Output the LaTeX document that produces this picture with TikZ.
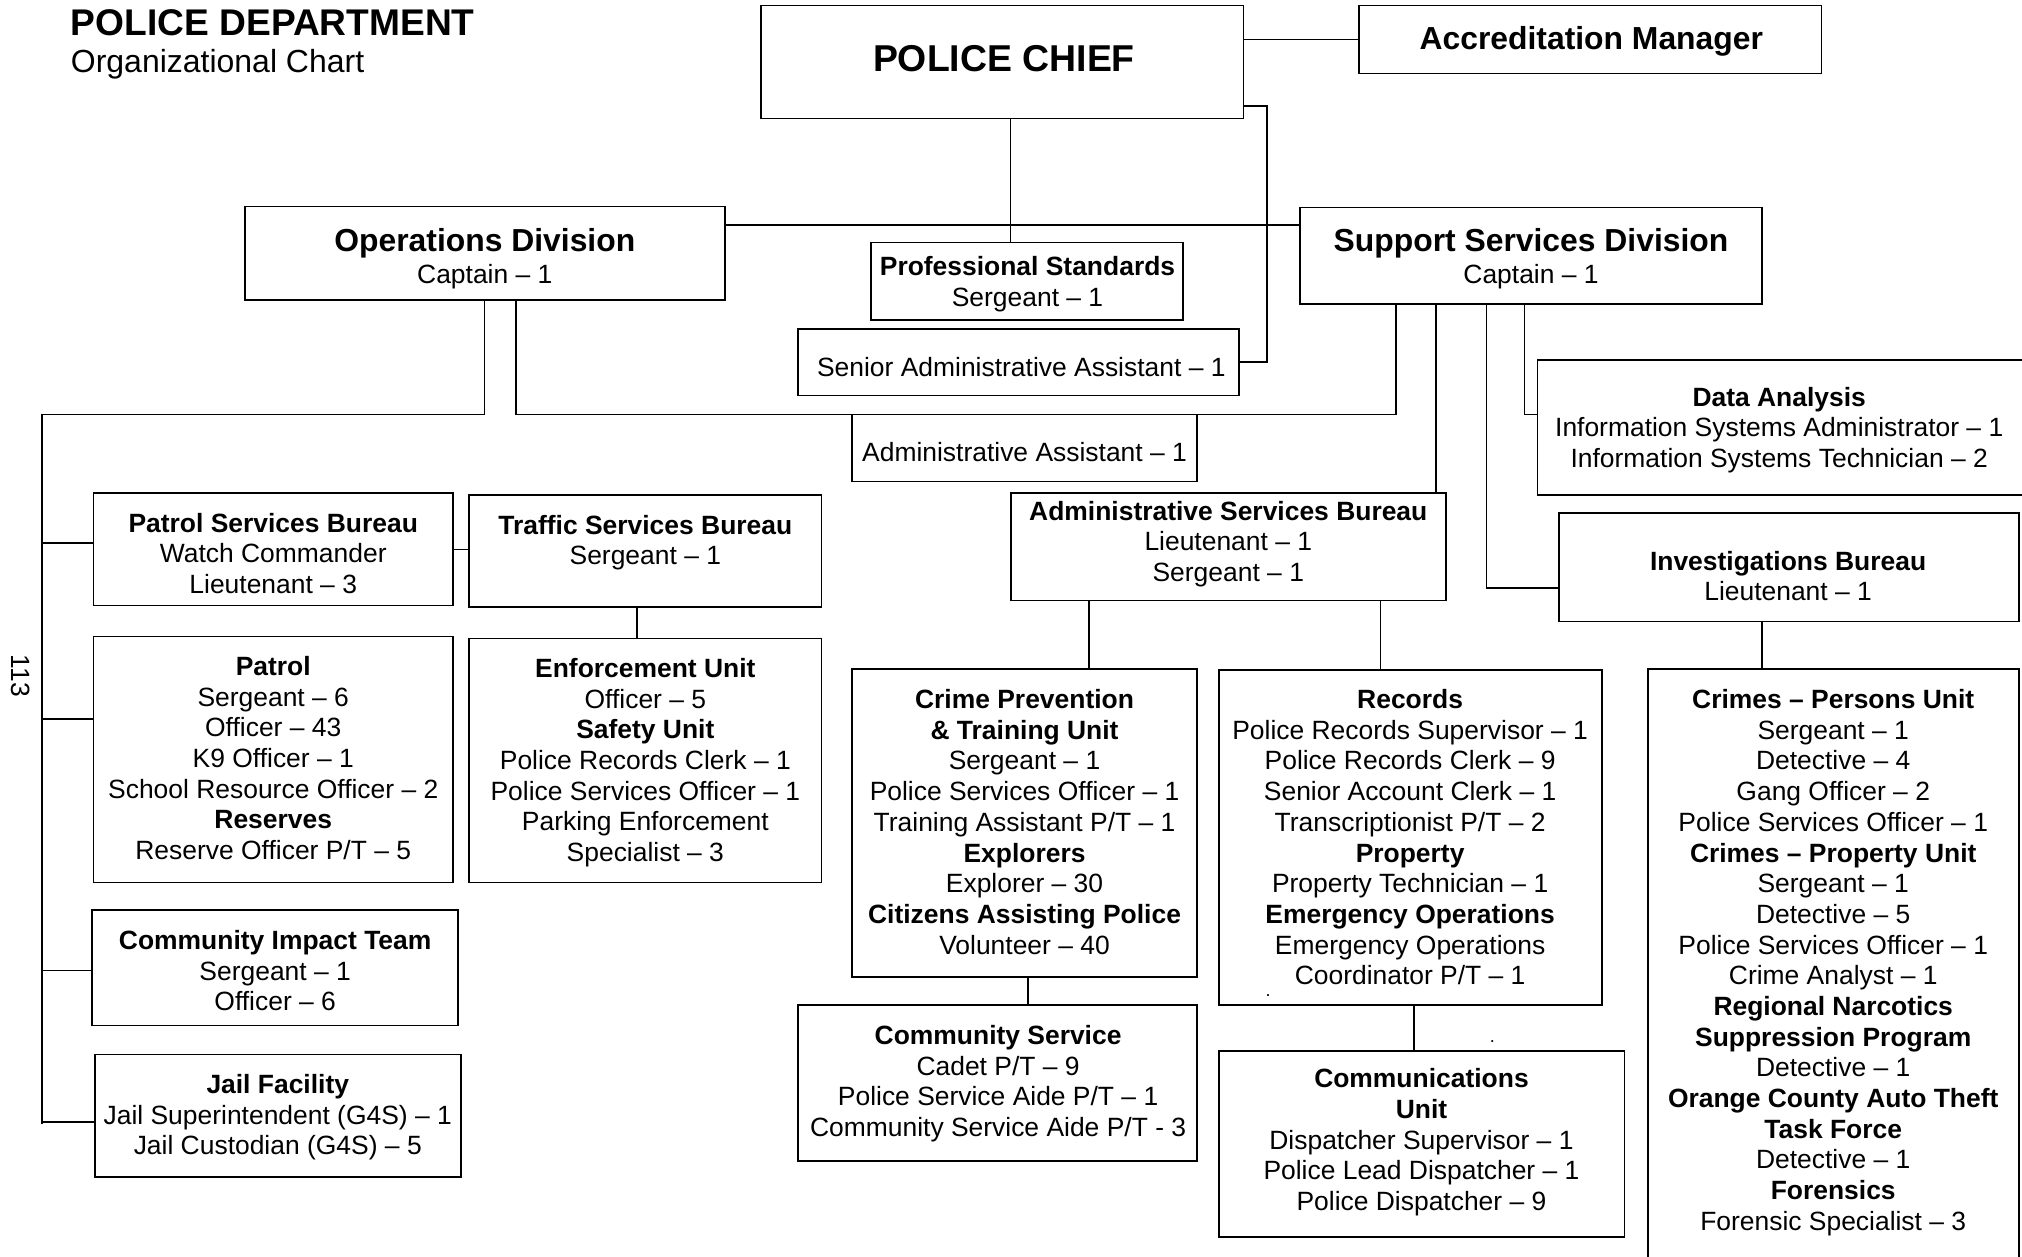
\documentclass[tikz,border=0pt]{standalone}
\usepackage{fontspec}
\setmainfont{Liberation Sans}
\newcommand\pdTitle{\fontsize{28.8}{33}\selectfont\bfseries}
\newcommand\pdSub{\fontsize{24.8}{28}\selectfont}
\newcommand\pdHead{\fontsize{24.7}{28}\selectfont\bfseries}
\newcommand\pdChief{\fontsize{29}{33}\selectfont\bfseries}
\begin{document}
\begin{tikzpicture}[x=1pt,y=-1pt,
  font=\fontsize{20.5}{23.8}\selectfont,
  box/.style={draw, line width=1.3pt, inner sep=0pt, outer sep=0pt},
  lbl/.style={align=center, inner sep=0pt, outer sep=0pt, anchor=north},
  txt/.style={inner sep=0pt, outer sep=0pt},
  conn/.style={line width=1.3pt}]
\useasboundingbox (0,0) rectangle (1568,974);
\clip (0,0) rectangle (1568,974);
\fill[white] (0,0) rectangle (1568,974);

% title
\node[txt, anchor=base west] (title) at (55,27.9) {\pdTitle POLICE DEPARTMENT};
\node[txt, anchor=base west] (subtitle) at (55,56.5) {\pdSub Organizational Chart};
\node[txt, rotate=-90] (pagenum) at (16,524) {113};

% boxes
\node[box, minimum width=374.4pt, minimum height=87.7pt] (chief) at (777.2,48.15) {};
\node[box, minimum width=358.7pt, minimum height=52.8pt] (acc) at (1233.25,30.7) {};
\node[box, minimum width=372.1pt, minimum height=72.6pt] (ops) at (375.95,196.5) {};
\node[box, minimum width=358.7pt, minimum height=75.1pt] (support) at (1187.25,198.35) {};
\node[box, minimum width=241.9pt, minimum height=60.2pt] (prof) at (796.55,218.2) {};
\node[box, minimum width=342.4pt, minimum height=51.5pt] (senior) at (789.8,280.85) {};
\node[box, minimum width=267.8pt, minimum height=51.9pt] (admin) at (794.5,347.45) {};
\node[box, minimum width=407.7pt, minimum height=104.6pt] (data) at (1396.15,331.6) {};
\node[box, minimum width=337.3pt, minimum height=83.2pt] (asb) at (952.65,424) {};
\node[box, minimum width=356.7pt, minimum height=84.4pt] (inv) at (1387.15,439.8) {};
\node[box, minimum width=278.8pt, minimum height=87.2pt] (psb) at (211.9,426) {};
\node[box, minimum width=273.3pt, minimum height=87.2pt] (traffic) at (500.45,427.2) {};
\node[box, minimum width=278.8pt, minimum height=190.9pt] (patrol) at (211.9,588.95) {};
\node[box, minimum width=273.3pt, minimum height=189.3pt] (enforcement) at (500.45,589.75) {};
\node[box, minimum width=283.8pt, minimum height=89.4pt] (cit) at (213.4,750.5) {};
\node[box, minimum width=283.8pt, minimum height=95.3pt] (jail) at (215.4,865.25) {};
\node[box, minimum width=267.8pt, minimum height=238.9pt] (cp) at (794.5,638.15) {};
\node[box, minimum width=309.8pt, minimum height=121.3pt] (cs) at (773.5,839.75) {};
\node[box, minimum width=296.8pt, minimum height=259.5pt] (records) at (1093.8,649.35) {};
\node[box, minimum width=314.3pt, minimum height=144.3pt] (comms) at (1102.55,886.95) {};
\node[box, minimum width=287.8pt, minimum height=481.3pt] (crimes) at (1421.6,759.35) {};

% texts
\node[txt, anchor=base] (chiefT) at (778.5,55.1) {\pdChief POLICE CHIEF};
\node[txt, anchor=base] (accT) at (1234,38) {\pdHead Accreditation Manager};
\node[lbl] (opsT) at (375.95,177.2) {{\pdHead Operations Division}\\[0.6pt]Captain – 1};
\node[lbl] (supportT) at (1187.25,177.4) {{\pdHead Support Services Division}\\[0.6pt]Captain – 1};
\node[lbl] (profT) at (796.8,199.1) {\textbf{Professional Standards}\\Sergeant – 1};
\node[txt, anchor=base] (seniorT) at (792,292.2) {Senior Administrative Assistant – 1};
\node[txt, anchor=base] (adminT) at (794.5,358) {Administrative Assistant – 1};
\node[lbl] (dataT) at (1379.7,300) {\textbf{Data Analysis}\\Information Systems Administrator – 1\\Information Systems Technician – 2};
\node[lbl] (asbT) at (952.5,388.4) {\textbf{Administrative Services Bureau}\\Lieutenant – 1\\Sergeant – 1};
\node[lbl] (invT) at (1386.6,427.2) {\textbf{Investigations Bureau}\\Lieutenant – 1};
\node[lbl] (psbT) at (211.9,397.7) {\textbf{Patrol Services Bureau}\\Watch Commander\\Lieutenant – 3};
\node[lbl] (trafficT) at (500.45,399.3) {\textbf{Traffic Services Bureau}\\Sergeant – 1};
\node[lbl] (patrolT) at (211.9,508.9) {\textbf{Patrol}\\Sergeant – 6\\Officer – 43\\K9 Officer – 1\\School Resource Officer – 2\\\textbf{Reserves}\\Reserve Officer P/T – 5};
\node[lbl] (enforcementT) at (500.45,510.4) {\textbf{Enforcement Unit}\\Officer – 5\\\textbf{Safety Unit}\\Police Records Clerk – 1\\Police Services Officer – 1\\Parking Enforcement\\Specialist – 3};
\node[lbl] (citT) at (213.4,721.5) {\textbf{Community Impact Team}\\Sergeant – 1\\Officer – 6};
\node[lbl] (jailT) at (215.4,833.2) {\textbf{Jail Facility}\\Jail Superintendent (G4S) – 1\\Jail Custodian (G4S) – 5};
\node[lbl] (cpT) at (794.5,534.6) {\textbf{Crime Prevention}\\\textbf{\& Training Unit}\\Sergeant – 1\\Police Services Officer – 1\\Training Assistant P/T – 1\\\textbf{Explorers}\\Explorer – 30\\\textbf{Citizens Assisting Police}\\Volunteer – 40};
\node[lbl] (csT) at (774,795.1) {\textbf{Community Service}\\Cadet P/T – 9\\Police Service Aide P/T – 1\\Community Service Aide P/T - 3};
\node[lbl] (recordsT) at (1093.5,534.6) {\textbf{Records}\\Police Records Supervisor – 1\\Police Records Clerk – 9\\Senior Account Clerk – 1\\Transcriptionist P/T – 2\\\textbf{Property}\\Property Technician – 1\\\textbf{Emergency Operations}\\Emergency Operations\\Coordinator P/T – 1};
\node[lbl] (commsT) at (1102.3,828.6) {\textbf{Communications}\\\textbf{Unit}\\Dispatcher Supervisor – 1\\Police Lead Dispatcher – 1\\Police Dispatcher – 9};
\node[lbl] (crimesT) at (1421.6,534.6) {\textbf{Crimes – Persons Unit}\\Sergeant – 1\\Detective – 4\\Gang Officer – 2\\Police Services Officer – 1\\\textbf{Crimes – Property Unit}\\Sergeant – 1\\Detective – 5\\Police Services Officer – 1\\Crime Analyst – 1\\\textbf{Regional Narcotics}\\\textbf{Suppression Program}\\Detective – 1\\\textbf{Orange County Auto Theft}\\\textbf{Task Force}\\Detective – 1\\\textbf{Forensics}\\Forensic Specialist – 3};
\node[txt, anchor=base, font=\fontsize{14}{16}\selectfont] (dot1) at (983.4,772.5) {.};
\node[txt, anchor=base, font=\fontsize{14}{16}\selectfont] (dot2) at (1157.3,808.5) {.};

% connectors
\coordinate (cR) at (982.4,82);
\draw[conn] (chief.east |- cR) -- (cR) |- (senior.east);
\draw[conn] (chief.east |- acc.west) -- (acc.west);
\coordinate (cB) at (783.5,0);
\draw[conn] (chief.south -| cB) -- (prof.north -| cB);
\coordinate (hL) at (0,174.4);
\draw[conn] (ops.east |- hL) -- (support.west |- hL);

\coordinate (oA) at (375.8,321.5);
\coordinate (busT) at (32.5,321.5);
\coordinate (busB) at (32.5,871.6);
\draw[conn] (ops.south -| oA) -- (oA) -- (busT) -- (busB);
\coordinate (b1) at (32.5,421.2); \draw[conn] (b1) -- (psb.west |- b1);
\coordinate (b2) at (32.5,557.5); \draw[conn] (b2) -- (patrol.west |- b2);
\coordinate (b3) at (32.5,752.7); \draw[conn] (b3) -- (cit.west |- b3);
\coordinate (b4) at (32.5,870.3); \draw[conn] (b4) -- (jail.west |- b4);

\coordinate (oB) at (400.2,321.5);
\coordinate (sA) at (1082.4,321.5);
\draw[conn] (ops.south -| oB) -- (oB) -- (sA) -- (support.south -| sA);
\coordinate (sB) at (1113.3,0);
\draw[conn] (support.south -| sB) -- (asb.north -| sB);
\coordinate (sC) at (1152.8,456.2);
\draw[conn] (support.south -| sC) -- (sC) -- (inv.west |- sC);
\coordinate (sD) at (1182.3,321.5);
\draw[conn] (support.south -| sD) -- (sD) -- (data.west |- sD);

\draw[conn] (psb.east) -- (traffic.west |- psb.east);
\coordinate (tA) at (494.2,0);
\draw[conn] (traffic.south -| tA) -- (enforcement.north -| tA);
\coordinate (aA) at (844.5,0);
\draw[conn] (asb.south -| aA) -- (cp.north -| aA);
\coordinate (aB) at (1070.4,0);
\draw[conn] (asb.south -| aB) -- (records.north -| aB);
\coordinate (pA) at (797,0);
\draw[conn] (cp.south -| pA) -- (cs.north -| pA);
\coordinate (rA) at (1096.3,0);
\draw[conn] (records.south -| rA) -- (comms.north -| rA);
\coordinate (iA) at (1366.6,0);
\draw[conn] (inv.south -| iA) -- (crimes.north -| iA);
\end{tikzpicture}
\end{document}
